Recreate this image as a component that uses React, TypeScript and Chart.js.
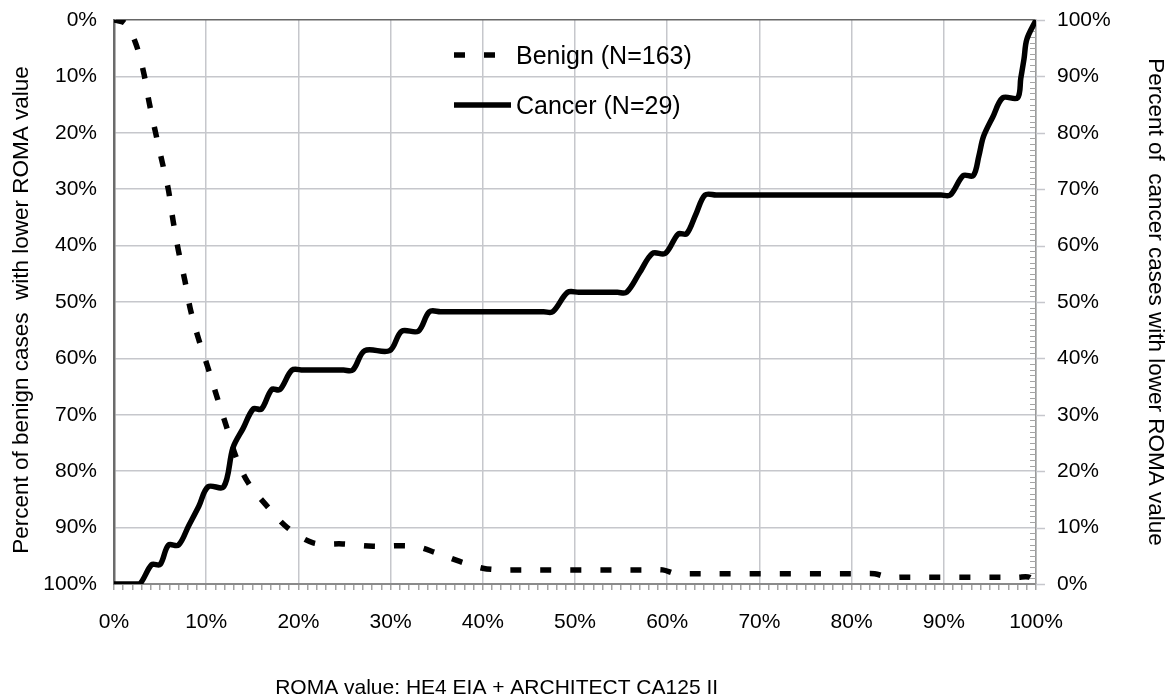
import React, { useEffect, useRef } from 'react';
import { Chart, registerables } from 'chart.js';

Chart.register(...registerables);

// ---------- data ----------
const benignLabel = 'Benign (N=163)';
const cancerLabel = 'Cancer (N=29)';

const benignX = [0, 1.2, 2.3, 3.2, 3.8, 4.5, 5.2, 5.9, 6.4, 7.0, 7.7, 8.3, 9.2, 10.2, 11.2, 12.2, 13.2, 14.5, 16.6, 18.8, 21.6, 24.8, 28.1, 32.5, 35.0, 37.5, 40.0, 42.0, 43.5, 58.0, 59.5, 61.0, 62.5, 81.0, 82.5, 84.0, 85.5, 98.0, 99.3, 100];
const benignY = [0, 0.6, 3.9, 9.2, 14.5, 19.9, 25.0, 30.1, 35.5, 41.0, 46.3, 51.4, 56.7, 61.7, 67.0, 72.1, 77.3, 81.9, 86.2, 90.0, 92.7, 92.9, 93.3, 93.3, 94.5, 96.0, 97.2, 97.5, 97.5, 97.5, 97.5, 98.2, 98.2, 98.2, 98.2, 98.8, 98.8, 98.8, 98.8, 100];

const cancerX = [0, 2.0, 2.8, 4.1, 5.0, 5.9, 7.0, 8.1, 9.2, 10.2, 11.9, 12.9, 14.0, 15.1, 16.0, 17.1, 18.0, 19.3, 20.5, 24.9, 25.9, 27.2, 29.9, 31.2, 33.0, 34.2, 35.4, 46.6, 47.6, 49.2, 50.4, 54.6, 55.6, 57.0, 58.4, 59.8, 61.2, 62.1, 63.1, 64.1, 65.3, 89.7, 90.7, 92.1, 93.2, 93.8, 94.3, 95.3, 96.4, 98.0, 98.35, 98.7, 99.0, 100];
const cancerY = [0, 0, 0, 3.45, 3.45, 6.9, 6.9, 10.34, 13.79, 17.24, 17.24, 24.14, 27.59, 31.03, 31.03, 34.48, 34.48, 37.93, 37.93, 37.93, 37.93, 41.38, 41.38, 44.83, 44.83, 48.28, 48.28, 48.28, 48.28, 51.72, 51.72, 51.72, 51.72, 55.17, 58.62, 58.62, 62.07, 62.07, 65.52, 68.97, 68.97, 68.97, 68.97, 72.41, 72.41, 75.86, 79.31, 82.76, 86.21, 86.21, 89.66, 93.1, 96.55, 100];

const axisMin = 0;
const axisMax = 100;
const majorStep = 10;
const minorStep = 1;

const xTitle = 'ROMA value: HE4 EIA + ARCHITECT CA125 II';
const leftTitle = 'Percent of benign cases  with lower ROMA value';
const rightTitle = 'Percent of  cancer cases with lower ROMA value';

const pct = (v: number) => `${v}%`;

// ---------- styles ----------
const FONT = '"Liberation Sans", Arial, sans-serif';
const GRID = '#c6c7cc';

const fixVertical = (w: number) => (s: any) => {
  s.width = w;
  s.paddingTop = 0;
  s.paddingBottom = 0;
};

export default function App() {
  const ref = useRef<HTMLCanvasElement>(null);

  useEffect(() => {
    const canvas = ref.current;
    if (!canvas) return;

    const rightTicks = {
      id: 'rightTicks',
      beforeDatasetsDraw(chart: any) {
        const s = chart.scales.y2;
        const ctx = chart.ctx;
        const x = chart.chartArea.right;
        ctx.save();
        for (let v = axisMin; v <= axisMax; v += minorStep) {
          const y = Math.round(s.getPixelForValue(v)) + 0.5;
          ctx.beginPath();
          if (v % majorStep === 0) {
            ctx.strokeStyle = GRID;
            ctx.lineWidth = 1.5;
            ctx.moveTo(x, y);
            ctx.lineTo(x + 9, y);
          } else {
            ctx.strokeStyle = '#a4a4a4';
            ctx.lineWidth = 1;
            ctx.moveTo(x - 6, y);
            ctx.lineTo(x, y);
          }
          ctx.stroke();
        }
        ctx.restore();
      },
    };

    const overlay = {
      id: 'overlay',
      afterDraw(chart: any) {
        const ctx = chart.ctx;
        const area = chart.chartArea;
        ctx.save();
        // legend
        const lineX = 454;
        const lineLen = 57;
        const textX = 516;
        const rowY = [55, 105];
        chart.data.datasets.forEach((ds: any, i: number) => {
          const y = rowY[i];
          ctx.beginPath();
          ctx.setLineDash(ds.borderDash || []);
          ctx.lineWidth = ds.borderWidth;
          ctx.strokeStyle = ds.borderColor;
          ctx.lineCap = 'butt';
          ctx.moveTo(lineX, y);
          ctx.lineTo(lineX + lineLen, y);
          ctx.stroke();
          ctx.setLineDash([]);
          ctx.fillStyle = '#000';
          ctx.font = `25px ${FONT}`;
          ctx.textAlign = 'left';
          ctx.textBaseline = 'middle';
          ctx.fillText(ds.label, textX, y + 2);
        });
        // x axis title
        ctx.font = `21px ${FONT}`;
        ctx.textAlign = 'center';
        ctx.textBaseline = 'alphabetic';
        ctx.fillStyle = '#000';
        ctx.fillText(xTitle, area.left + (area.right - area.left) * 0.415, 694);
        // left axis title
        ctx.save();
        ctx.translate(22, 310);
        ctx.rotate(-Math.PI / 2);
        ctx.font = `22.5px ${FONT}`;
        ctx.textAlign = 'center';
        ctx.textBaseline = 'middle';
        ctx.fillText(leftTitle, 0, 0);
        ctx.restore();
        ctx.restore();
      },
    };

    const chart = new Chart(canvas, {
      type: 'line',
      data: {
        datasets: [
          {
            label: benignLabel,
            data: benignX.map((x, i) => ({ x, y: benignY[i] })),
            yAxisID: 'y',
            borderColor: '#000',
            borderWidth: 5.5,
            borderDash: [11, 19],
            borderCapStyle: 'butt',
            pointRadius: 0,
            pointHoverRadius: 0,
            pointHitRadius: 0,
            tension: 0.33,
            fill: false,
          },
          {
            label: cancerLabel,
            data: cancerX.map((x, i) => ({ x, y: cancerY[i] })),
            yAxisID: 'y2',
            borderColor: '#000',
            borderWidth: 5.5,
            borderCapStyle: 'round',
            borderJoinStyle: 'round',
            pointRadius: 0,
            pointHoverRadius: 0,
            pointHitRadius: 0,
            tension: 0.33,
            fill: false,
          },
        ],
      },
      options: {
        animation: false,
        responsive: false,
        events: [],
        layout: { autoPadding: false, padding: { top: 20, left: 0, right: 0, bottom: 0 } },
        plugins: {
          legend: { display: false },
          tooltip: { enabled: false },
          title: { display: false },
        },
        scales: {
          x: {
            type: 'linear',
            position: 'bottom',
            min: axisMin,
            max: axisMax,
            afterFit: (s: any) => { s.height = 115; s.paddingLeft = 0; s.paddingRight = 0; },
            ticks: {
              stepSize: minorStep,
              maxTicksLimit: 200,
              autoSkip: false,
              maxRotation: 0,
              minRotation: 0,
              padding: 20,
              color: '#000',
              font: { family: FONT, size: 21 },
              callback: (v: any) => (Number(v) % majorStep === 0 ? pct(Number(v)) : ''),
            },
            grid: {
              color: (c: any) => (c.tick && c.tick.value % majorStep === 0 ? GRID : 'rgba(0,0,0,0)'),
              tickColor: '#a4a4a4',
              tickLength: 6,
              lineWidth: 1.5,
            },
            border: { color: '#8a8a8a', width: 2 },
          },
          y: {
            type: 'linear',
            position: 'left',
            reverse: true,
            min: axisMin,
            max: axisMax,
            afterFit: fixVertical(114),
            ticks: {
              stepSize: majorStep,
              padding: 17,
              color: '#000',
              font: { family: FONT, size: 21 },
              callback: (v: any) => pct(Number(v)),
            },
            grid: {
              color: (c: any) => (c.tick && c.tick.value === axisMin ? '#666666' : GRID),
              lineWidth: 1.5,
              drawTicks: false,
            },
            border: { color: '#6b6b6b', width: 2.5 },
            title: { display: false },
          },
          y2: {
            type: 'linear',
            position: 'right',
            min: axisMin,
            max: axisMax,
            afterFit: fixVertical(136),
            ticks: {
              stepSize: majorStep,
              padding: 21,
              color: '#000',
              font: { family: FONT, size: 21 },
              callback: (v: any) => pct(Number(v)),
            },
            grid: { drawOnChartArea: false, drawTicks: false },
            border: { color: '#9a9a9a', width: 1.5 },
            title: {
              display: true,
              text: rightTitle,
              color: '#000',
              font: { family: FONT, size: 22.5 },
              padding: { top: 3.5, bottom: 0 },
            },
          },
        },
      } as any,
      plugins: [rightTicks, overlay],
    });

    return () => chart.destroy();
  }, []);

  return (
    <div style={{ position: 'absolute', left: 0, top: 0, width: 1172, height: 699, background: '#fff' }}>
      <canvas ref={ref} width={1172} height={699} style={{ display: 'block' }} />
    </div>
  );
}
